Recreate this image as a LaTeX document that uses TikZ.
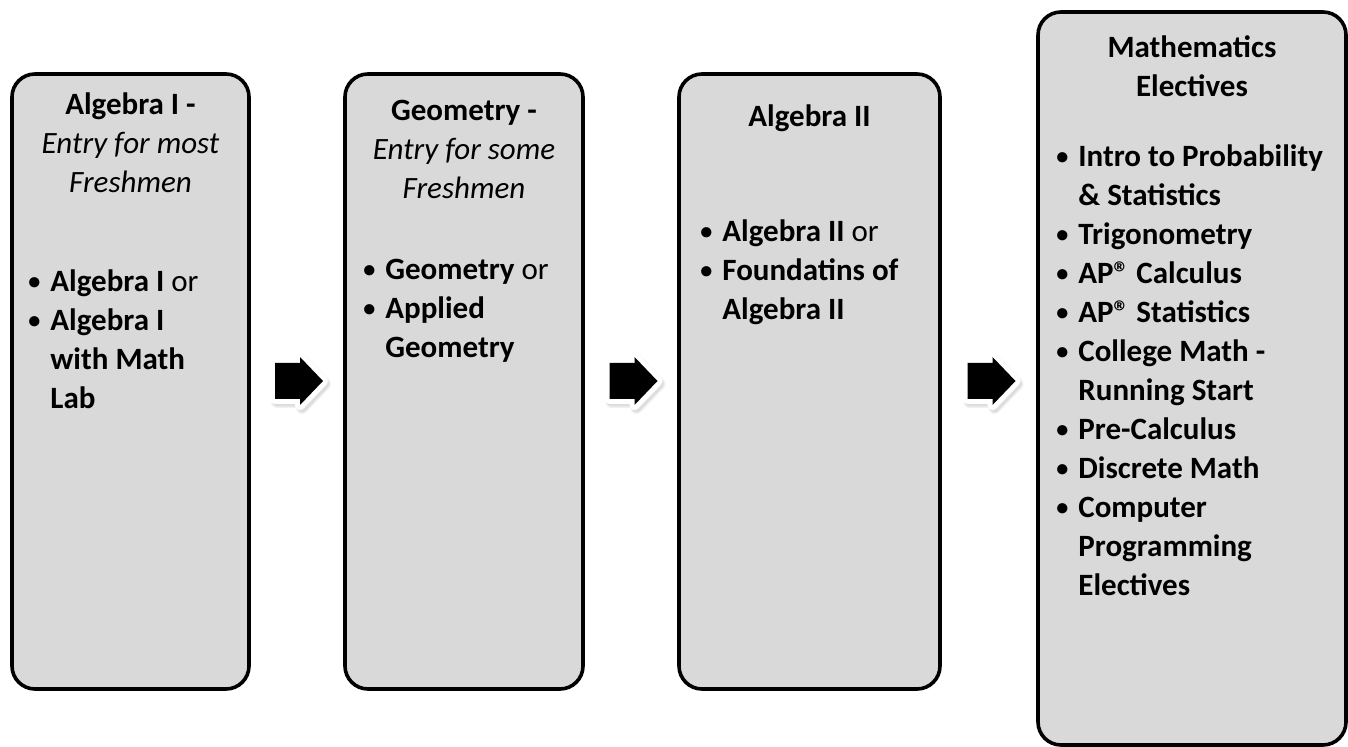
\documentclass[tikz,border=0pt]{standalone}
\usepackage{fontspec}
\setmainfont{Carlito}
\usetikzlibrary{%
	fit%
}
\definecolor{boxgray}{HTML}{D9D9D9}
\newcommand{\bul}{\makebox[11pt][l]{\raisebox{0.9pt}{\scalebox{0.78}{\textbullet}}}}
\newcommand{\ind}{\hspace*{11pt}}
\newcommand{\regmark}{\textregistered}
\tikzset{
	course/.style={draw=black, line width=1.8pt, fill=boxgray, rounded corners=11.5pt, inner sep=0pt},
	boxtitle/.style={anchor=north, align=center, inner sep=0pt, font=\fontsize{15.5}{19.5}\selectfont},
	itemlist/.style={anchor=north west, align=left, inner sep=0pt, font=\fontsize{15.5}{19.5}\selectfont\bfseries},
	arrowshape/.style={insert path={(-24,-18) -- (1,-18) -- (1,-24) -- (24,0) -- (1,24) -- (1,18) -- (-24,18) -- cycle}},
	flowarrow/.pic={
		\path[fill=black, draw=black, line width=6pt, line join=round, opacity=0.06, shift={(2,3)}] [arrowshape];
		\path[fill=black, draw=black, line width=4.5pt, line join=round, opacity=0.08, shift={(2,3)}] [arrowshape];
		\path[fill=white, draw=white, line width=5pt, line join=round] [arrowshape];
		\fill[black] [arrowshape];
	}
}
\begin{document}
\begin{tikzpicture}[x=0.5pt,y=-0.5pt]
	\useasboundingbox (0,0) rectangle (1348,747);

	% Boxes
	\node[course, fit={(12,74) (249,689)}] (alg1) {};
	\node[course, fit={(345,74) (583,689)}] (geom) {};
	\node[course, fit={(679,74) (940,689)}] (alg2) {};
	\node[course, fit={(1038,12) (1346,745)}] (elect) {};

	% Titles
	\node[boxtitle] (alg1title) at (130.5,92) {\textbf{Algebra I -}\\\textit{Entry for most}\\\textit{Freshmen}};
	\node[boxtitle] (geomtitle) at (464,100) {\textbf{Geometry -}\\\textit{Entry for some}\\\textit{Freshmen}};
	\node[boxtitle] (alg2title) at (809.5,104) {\textbf{Algebra II}};
	\node[boxtitle] (electtitle) at (1192,35) {\textbf{Mathematics}\\\textbf{Electives}};

	% Course lists
	\node[itemlist] (alg1list) at (28,269) {\bul Algebra I {\mdseries or}\\
		\bul Algebra I\\ \ind with Math\\ \ind Lab};
	\node[itemlist] (geomlist) at (363,259) {\bul Geometry {\mdseries or}\\
		\bul Applied\\ \ind Geometry};
	\node[itemlist] (alg2list) at (700,219) {\bul Algebra II {\mdseries or}\\
		\bul Foundatins of\\ \ind Algebra II};
	\node[itemlist] (electlist) at (1056,144) {\bul Intro to Probability\\ \ind \& Statistics\\
		\bul Trigonometry\\
		\bul AP\regmark{} Calculus\\
		\bul AP\regmark{} Statistics\\
		\bul College Math -\\ \ind Running Start\\
		\bul Pre-Calculus\\
		\bul Discrete Math\\
		\bul Computer\\ \ind Programming\\ \ind Electives};

	% Arrows
	\pic (step1) at (299,381) {flowarrow};
	\pic (step2) at (633.5,381) {flowarrow};
	\pic (step3) at (991.5,381) {flowarrow};
\end{tikzpicture}
\end{document}
